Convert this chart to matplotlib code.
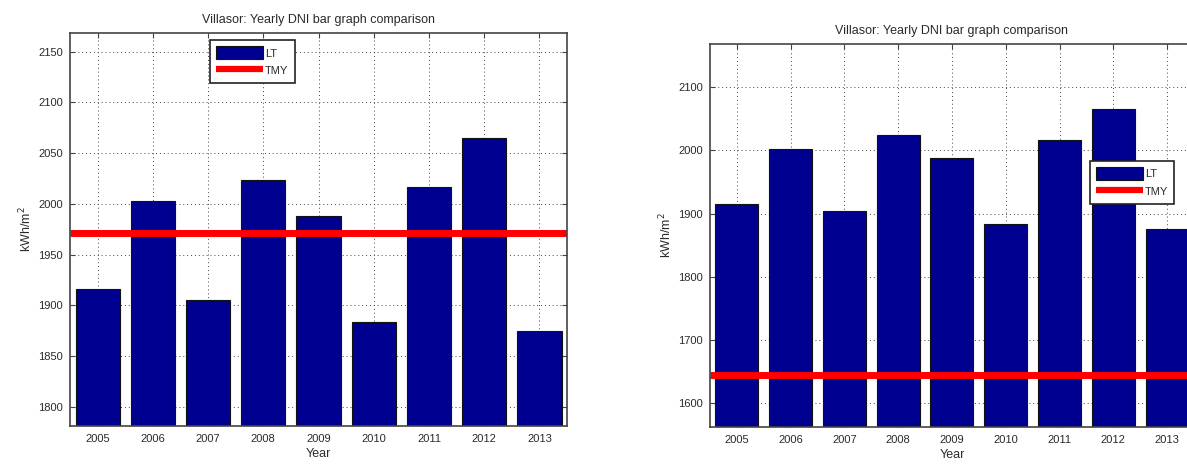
import matplotlib
matplotlib.use("Agg")
import matplotlib.pyplot as plt
from matplotlib.patches import Patch
from matplotlib.lines import Line2D

plt.rcParams['font.family'] = ['Liberation Sans', 'DejaVu Sans']

# Yearly DNI totals (kWh/m2)
years = [2005, 2006, 2007, 2008, 2009, 2010, 2011, 2012, 2013]
lt_values = [1916, 2003, 1905, 2024, 1988, 1884, 2017, 2065, 1875]
tmy_left = 1971
tmy_right = 1645
yticks_left = [1800, 1850, 1900, 1950, 2000, 2050, 2100, 2150]
yticks_right = [1600, 1700, 1800, 1900, 2000, 2100]

TITLE = "Villasor: Yearly DNI bar graph comparison"
BAR_COLOR = "#000090"
TEXT_COLOR = "#2a2a2a"

fig = plt.figure(figsize=(11.87, 4.66), dpi=100)
ax_l = fig.add_axes([0.0590, 0.0858, 0.4187, 0.8433])
ax_r = fig.add_axes([0.5981, 0.0837, 0.4078, 0.8219])


def draw_panel(ax, tmy, yticks, legend_anchor):
    ax.bar(years, lt_values, width=0.8, color=BAR_COLOR, edgecolor="#111111",
           linewidth=0.8, zorder=2)
    ax.axhline(tmy, color="#ff0000", linewidth=5.0, zorder=3,
               solid_capstyle="butt")

    lo = 0.95 * min(min(lt_values), tmy)
    hi = 1.05 * max(max(lt_values), tmy)
    ax.set_ylim(lo, hi)
    ax.set_xlim(years[0] - 0.5, years[-1] + 0.5)
    ax.set_xticks(years)
    ax.set_xticklabels([str(y) for y in years])
    ax.set_yticks(yticks)

    ax.set_axisbelow(True)
    ax.grid(True, linestyle=(0, (1, 3)), color="#444444", linewidth=0.7)

    for sp in ax.spines.values():
        sp.set_color("#444444")
        sp.set_linewidth(1.2)
        sp.set_zorder(5)
    ax.tick_params(direction="in", length=3.5, width=0.8, color="#444444",
                   top=True, right=True, labelsize=8, labelcolor=TEXT_COLOR)
    ax.tick_params(axis="x", pad=5.5)
    ax.tick_params(axis="y", pad=5)

    ax.set_title(TITLE, fontsize=9, color=TEXT_COLOR, pad=7)
    ax.set_xlabel("Year", fontsize=9, color=TEXT_COLOR, labelpad=3)
    ax.set_ylabel("kWh/m$^2$", fontsize=9, color=TEXT_COLOR, labelpad=3)

    handles = [Patch(facecolor=BAR_COLOR, edgecolor="#111111", linewidth=0.8),
               Line2D([0], [0], color="#ff0000", linewidth=4.5,
                      solid_capstyle="butt")]
    leg = ax.legend(handles, ["LT", "TMY"], loc="upper left",
                    bbox_to_anchor=legend_anchor, borderaxespad=0,
                    fontsize=8, handlelength=4.2, handleheight=1.45,
                    handletextpad=0.2, labelspacing=0.4, borderpad=0.55,
                    fancybox=False, framealpha=1.0, edgecolor="#222222")
    leg.get_frame().set_linewidth(1.2)
    leg.set_zorder(10)
    for t in leg.get_texts():
        t.set_color(TEXT_COLOR)


draw_panel(ax_l, tmy_left, yticks_left, (0.282, 0.982))
draw_panel(ax_r, tmy_right, yticks_right, (0.785, 0.6945))

fig.savefig("out.png", dpi=100)
